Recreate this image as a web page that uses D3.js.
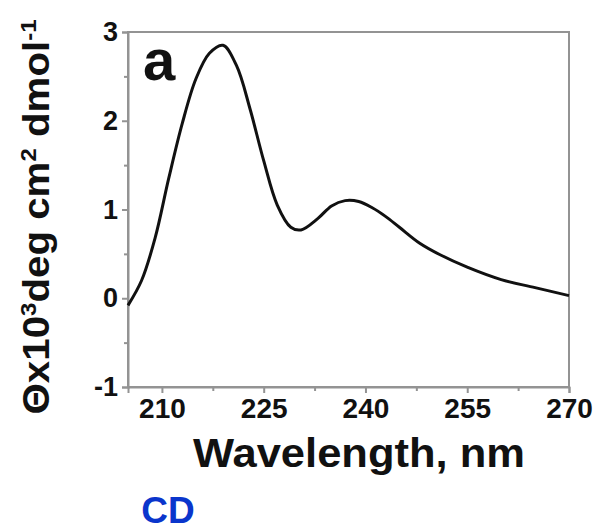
<!DOCTYPE html>
<html>
<head>
<meta charset="utf-8">
<script src="https://cdn.jsdelivr.net/npm/d3@7"></script>
<style>
  html, body { margin: 0; padding: 0; background: #fff; }
  svg { display: block; }
  text { font-family: Arial, "Liberation Sans", sans-serif; font-weight: bold; fill: #111; }
</style>
</head>
<body>
<svg id="chart" width="596" height="531"></svg>
<script>
// CD spectrum: mean residue ellipticity vs wavelength
const wavelength = [205, 207, 209, 211, 213, 215, 217, 219, 221, 223, 225, 227, 229, 230.5,
                    233, 235, 237, 239, 241, 243, 245, 248, 251, 255, 260, 265, 270];
const ellipticity = [-0.08, 0.20, 0.68, 1.35, 1.97, 2.47, 2.76, 2.85, 2.62, 2.13, 1.55, 1.05, 0.80, 0.77,
                     0.90, 1.04, 1.10, 1.09, 1.02, 0.92, 0.80, 0.62, 0.49, 0.35, 0.21, 0.12, 0.03];
const xMajorTicks = [210, 225, 240, 255, 270];
const xMinorTicks = [217.5, 232.5, 247.5, 262.5];
const yMajorTicks = [-1, 0, 1, 2, 3];
const yMinorTicks = [-0.5, 0.5, 1.5, 2.5];

const svg = d3.select("#chart");
const m = { left: 128, right: 569, top: 32, bottom: 387 };

const x = d3.scaleLinear().domain([205, 270]).range([m.left, m.right]);
const y = d3.scaleLinear().domain([-1, 3]).range([m.bottom, m.top]);

const axisColor = "#939393";
const plainNumber = d => String(d);

// stretch a text element horizontally to a given width
function fitWidth(sel, w) {
  sel.attr("textLength", w).attr("lengthAdjust", "spacingAndGlyphs");
}

// frame (top and right edges)
svg.append("rect")
  .attr("x", m.left).attr("y", m.top)
  .attr("width", m.right - m.left).attr("height", m.bottom - m.top)
  .attr("fill", "none").attr("stroke", axisColor).attr("stroke-width", 2);

// bottom axis
const xAxis = d3.axisBottom(x).tickValues(xMajorTicks).tickSize(6).tickPadding(5).tickFormat(plainNumber);
const gx = svg.append("g").attr("transform", `translate(0,${m.bottom})`).call(xAxis);
gx.select(".domain").attr("stroke", axisColor).attr("stroke-width", 2);
gx.selectAll(".tick line").attr("stroke", axisColor).attr("stroke-width", 2);
gx.selectAll(".tick text").attr("font-size", 28).attr("fill", "#111")
  .attr("font-family", "Arial, 'Liberation Sans', sans-serif").attr("font-weight", "bold");
svg.append("g").attr("transform", `translate(0,${m.bottom})`)
  .call(d3.axisBottom(x).tickValues(xMinorTicks).tickSize(4).tickFormat(""))
  .call(g => g.select(".domain").remove())
  .selectAll(".tick line").attr("stroke", axisColor).attr("stroke-width", 2);

// left axis
const yAxis = d3.axisLeft(y).tickValues(yMajorTicks).tickSize(6).tickPadding(4).tickFormat(plainNumber);
const gy = svg.append("g").attr("transform", `translate(${m.left},0)`).call(yAxis);
gy.select(".domain").attr("stroke", axisColor).attr("stroke-width", 2);
gy.selectAll(".tick line").attr("stroke", axisColor).attr("stroke-width", 2);
gy.selectAll(".tick text").attr("font-size", 27).attr("fill", "#111")
  .attr("font-family", "Arial, 'Liberation Sans', sans-serif").attr("font-weight", "bold");
svg.append("g").attr("transform", `translate(${m.left},0)`)
  .call(d3.axisLeft(y).tickValues(yMinorTicks).tickSize(4).tickFormat(""))
  .call(g => g.select(".domain").remove())
  .selectAll(".tick line").attr("stroke", axisColor).attr("stroke-width", 2);

// spectrum line
const line = d3.line()
  .x((d, i) => x(wavelength[i]))
  .y(d => y(d))
  .curve(d3.curveCatmullRom.alpha(0.5));
svg.append("path")
  .datum(ellipticity)
  .attr("d", line)
  .attr("fill", "none")
  .attr("stroke", "#111")
  .attr("stroke-width", 3)
  .attr("stroke-linejoin", "round");

// panel letter
svg.append("text")
  .attr("x", 143).attr("y", 80)
  .attr("font-size", 58)
  .text("a");

// x axis title
svg.append("text")
  .attr("x", 359).attr("y", 467)
  .attr("text-anchor", "middle")
  .attr("font-size", 40)
  .text("Wavelength, nm")
  .call(fitWidth, 332);

// y axis title
const yt = svg.append("text")
  .attr("transform", "translate(49,217) rotate(-90)")
  .attr("text-anchor", "middle")
  .attr("font-size", 37);
yt.append("tspan").text("\u0398x10");
yt.append("tspan").attr("font-size", 22).attr("dy", -13).text("3");
yt.append("tspan").attr("dy", 13).text("deg cm");
yt.append("tspan").attr("font-size", 22).attr("dy", -13).text("2");
yt.append("tspan").attr("dy", 13).text(" dmol");
yt.append("tspan").attr("font-size", 22).attr("dy", -13).text("-1");
yt.call(fitWidth, 395);

// caption
svg.append("text")
  .attr("x", 168).attr("y", 523)
  .attr("text-anchor", "middle")
  .attr("font-family", "'Open Sans', 'Noto Sans', sans-serif")
  .attr("font-weight", 800)
  .attr("font-size", 37)
  .style("fill", "#0a35cc")
  .text("CD");
</script>
</body>
</html>
